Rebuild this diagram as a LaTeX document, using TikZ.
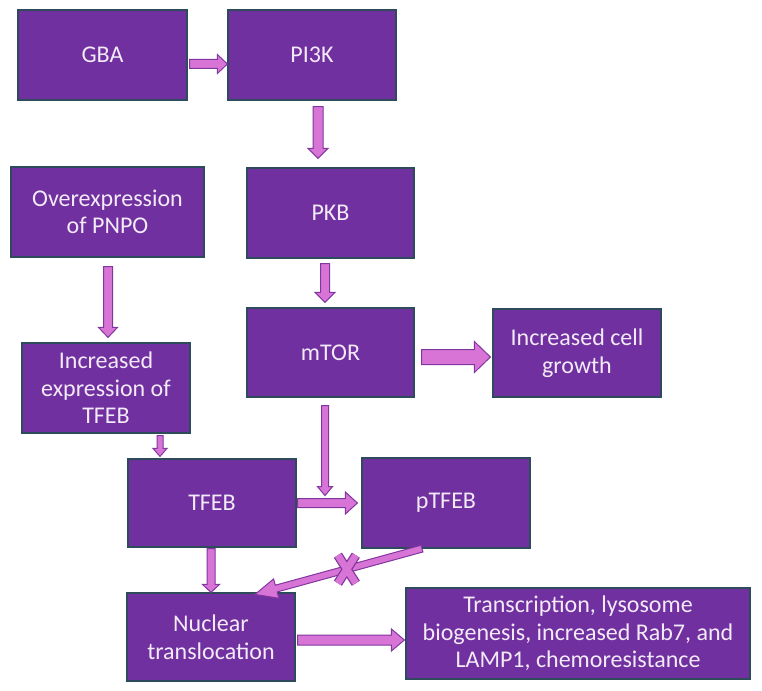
\documentclass[tikz,border=0pt]{standalone}
\usepackage{fontspec}
\setmainfont{Carlito}
\usetikzlibrary{calc}
\definecolor{boxfill}{HTML}{7030A0}
\definecolor{boxline}{HTML}{2E4B5C}
\definecolor{boxtext}{HTML}{F3EAF7}
\definecolor{arrfill}{HTML}{D874D6}
\definecolor{arrline}{HTML}{8236A0}
\tikzset{
  box/.style={rectangle, fill=boxfill, draw=boxline, line width=1.2pt,
    text=boxtext, align=center, inner sep=0pt,
    font=\fontsize{24}{27.5}\selectfont},
  blockarrow/.style={fill=arrfill, draw=arrline, line width=1pt, line join=miter},
  xout/.style={draw=arrline, line width=9.5pt},
  xin/.style={draw=arrfill, line width=7pt},
}
\newcommand{\barrow}[5]{%
  \filldraw[blockarrow] let \p1=(#1), \p2=(#2),
    \n1={atan2(\y2-\y1,\x2-\x1)}, \n2={veclen(\x2-\x1,\y2-\y1)} in
    [shift={(\p1)}, rotate=\n1]
    (0,-#3) -- ({\n2-#5},-#3) -- ({\n2-#5},-#4) -- (\n2,0) -- ({\n2-#5},#4) -- ({\n2-#5},#3) -- (0,#3) -- cycle;}
\begin{document}
\begin{tikzpicture}[x=1pt,y=-1pt]
\useasboundingbox (0,0) rectangle (762,690);
% boxes
\node[box, minimum width=169pt, minimum height=90pt] (GBA) at (102.5,55) {GBA};
\node[box, minimum width=168pt, minimum height=90pt] (PI3K) at (312,55) {PI3K};
\node[box, minimum width=193pt, minimum height=90pt] (PNPO) at (107.5,212) {Overexpression\\of PNPO};
\node[box, minimum width=167pt, minimum height=90pt] (PKB) at (330.5,213) {PKB};
\node[box, minimum width=167pt, minimum height=89pt] (mTOR) at (330.5,352.5) {mTOR};
\node[box, minimum width=168pt, minimum height=88pt] (growth) at (577,353) {Increased cell\\growth};
\node[box, minimum width=168pt, minimum height=90pt] (expr) at (106,388) {Increased\\expression of\\TFEB};
\node[box, minimum width=168pt, minimum height=88pt] (TFEB) at (212,503) {TFEB};
\node[box, minimum width=168pt, minimum height=90pt] (pTFEB) at (446,503) {pTFEB};
\node[box, minimum width=168pt, minimum height=88pt] (nuc) at (211,637) {Nuclear\\translocation};
\node[box, minimum width=344pt, minimum height=91pt] (trans) at (578,633.5) {Transcription, lysosome\\biogenesis, increased Rab7, and\\LAMP1, chemoresistance};
% arrows
\barrow{$(GBA.east)+(2,9)$}{$(PI3K.west)+(0,9)$}{4.5}{9.5}{10}
\barrow{$(PI3K.south)+(6,6)$}{$(PKB.north)+(-12.5,-9)$}{5}{10}{10}
\barrow{$(PNPO.south)+(0.5,9)$}{$(expr.north)+(2,-5)$}{4.5}{9.5}{10}
\barrow{$(PKB.south)+(-5.5,5)$}{$(mTOR.north)+(-5.5,-5)$}{4.5}{10}{10}
\barrow{$(mTOR.east)+(7,4.5)$}{$(growth.west)+(-2,4)$}{7.5}{15.5}{16}
\barrow{$(expr.south)+(54,2)$}{$(TFEB.north)+(-52,-2)$}{3}{7}{8}
\barrow{$(mTOR.south)+(-5.5,8)$}{$(mTOR.south)+(-5.5,98)$}{3.5}{7.5}{9}
\barrow{$(TFEB.east)+(1,0)$}{$(pTFEB.west)+(-4,0)$}{4.5}{11}{12}
\barrow{$(TFEB.south)+(-1,1)$}{$(nuc.north)+(0,0)$}{4}{8.5}{8}
\barrow{$(pTFEB.south)+(-24,0)$}{$(nuc.north)+(44,2)$}{3.5}{10}{22}
\barrow{$(nuc.east)+(2,3)$}{$(trans.west)+(-1,6.5)$}{5}{11}{13}
% blocking cross
\coordinate (xc) at ($($(pTFEB.south)+(-24,0)$)!0.45!($(nuc.north)+(44,2)$)$);
\draw[xout] ($(xc)+(-9,-14)$) -- ($(xc)+(9,14)$) ($(xc)+(9,-14)$) -- ($(xc)+(-9,14)$);
\draw[xin] ($(xc)+(-9,-14)$) -- ($(xc)+(9,14)$) ($(xc)+(9,-14)$) -- ($(xc)+(-9,14)$);
\end{tikzpicture}
\end{document}
